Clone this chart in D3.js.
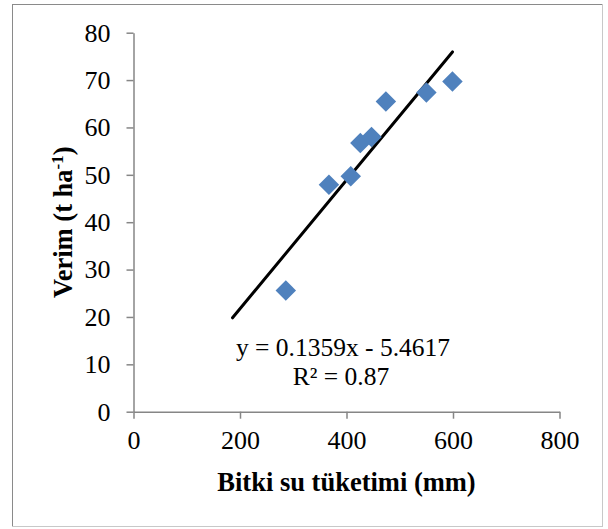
<!DOCTYPE html>
<html lang="tr">
<head>
    <meta charset="UTF-8">
    <title>Verim - Bitki su tüketimi</title>
    <script src="https://d3js.org/d3.v7.min.js"></script>
    <style>
        body { margin: 0; background: #fff; }
        text { font-family: 'Liberation Serif', 'Times New Roman', serif; }
    </style>
</head>
<body>
    <div id="chart"></div>
    <script>
        // values
        const waterUse = [286, 367, 408, 426, 447, 474, 550, 599];   // mm
        const yieldVals = [25.6, 47.9, 49.7, 56.7, 58.0, 65.5, 67.4, 69.7]; // t/ha
        const xTicks = [0, 200, 400, 600, 800];
        const yTicks = [0, 10, 20, 30, 40, 50, 60, 70, 80];
        const trendSlope = 0.1359;
        const trendIntercept = -5.4617;
        const trendFrom = [186, 599];
        const eqLabel = 'y = 0.1359x - 5.4617';
        const r2Label = 'R² = 0.87';

        const width = 608, height = 529;
        const margin = { top: 32.7, right: 48.5, bottom: 117.3, left: 133.5 };
        const axisColor = '#868686';
        const serif = "'Liberation Serif', 'Times New Roman', serif";

        const svg = d3.select('#chart').append('svg')
            .attr('width', width)
            .attr('height', height);

        // chart frame
        svg.append('line').attr('x1', 12).attr('y1', 4.5).attr('x2', 603).attr('y2', 4.5)
            .attr('stroke', '#8a8a8a');
        svg.append('line').attr('x1', 12.5).attr('y1', 4).attr('x2', 12.5).attr('y2', 527)
            .attr('stroke', '#8a8a8a');
        svg.append('line').attr('x1', 602.5).attr('y1', 4).attr('x2', 602.5).attr('y2', 527)
            .attr('stroke', '#c8c8c8');
        svg.append('line').attr('x1', 12).attr('y1', 526.5).attr('x2', 603).attr('y2', 526.5)
            .attr('stroke', '#c8c8c8');

        const x = d3.scaleLinear().domain([0, 800]).range([margin.left, width - margin.right]);
        const y = d3.scaleLinear().domain([0, 80]).range([height - margin.bottom, margin.top]);

        // y axis
        const yAxis = svg.append('g')
            .attr('transform', `translate(${margin.left},0)`)
            .call(d3.axisLeft(y).tickValues(yTicks).tickSize(7).tickPadding(16).tickSizeOuter(0));
        yAxis.attr('font-family', serif);
        yAxis.select('.domain').attr('stroke', axisColor).attr('stroke-width', 1.5);
        yAxis.selectAll('.tick line').attr('stroke', axisColor).attr('stroke-width', 1.5);
        yAxis.selectAll('.tick text')
            .attr('fill', '#000')
            .style('font-family', serif)
            .style('font-size', '26px');

        // x axis
        const xAxis = svg.append('g')
            .attr('transform', `translate(0,${y(0)})`)
            .call(d3.axisBottom(x).tickValues(xTicks).tickSize(7).tickPadding(12).tickSizeOuter(0));
        xAxis.attr('font-family', serif);
        xAxis.select('.domain').attr('stroke', axisColor).attr('stroke-width', 1.5);
        xAxis.selectAll('.tick line').attr('stroke', axisColor).attr('stroke-width', 1.5);
        xAxis.selectAll('.tick text')
            .attr('fill', '#000')
            .style('font-family', serif)
            .style('font-size', '26px');

        // trendline
        const line = d3.line()
            .x(d => x(d))
            .y(d => y(trendSlope * d + trendIntercept));
        svg.append('path')
            .datum(trendFrom)
            .attr('d', line)
            .attr('fill', 'none')
            .attr('stroke', '#000')
            .attr('stroke-width', 3)
            .attr('stroke-linecap', 'round');

        // points (diamonds)
        const diamond = d3.symbol().type(d3.symbolSquare).size(210);
        svg.selectAll('.pt')
            .data(waterUse.map((v, i) => [v, yieldVals[i]]))
            .enter()
            .append('path')
            .attr('class', 'pt')
            .attr('d', diamond)
            .attr('transform', d => `translate(${x(d[0])},${y(d[1])}) rotate(45)`)
            .attr('fill', '#4F81BD');

        // equation label
        svg.append('text')
            .attr('x', 343)
            .attr('y', 356)
            .attr('text-anchor', 'middle')
            .style('font-family', serif)
            .style('font-size', '25.5px')
            .text(eqLabel);
        svg.append('text')
            .attr('x', 341)
            .attr('y', 385)
            .attr('text-anchor', 'middle')
            .style('font-family', serif)
            .style('font-size', '25.5px')
            .text(r2Label);

        // axis titles
        svg.append('text')
            .attr('x', (x(0) + x(800)) / 2)
            .attr('y', 491)
            .attr('text-anchor', 'middle')
            .style('font-family', serif)
            .style('font-size', '26.5px')
            .style('font-weight', 'bold')
            .text('Bitki su tüketimi (mm)');

        const yTitle = svg.append('text')
            .attr('transform', `translate(72,${(y(0) + y(80)) / 2}) rotate(-90)`)
            .attr('text-anchor', 'middle')
            .style('font-family', serif)
            .style('font-size', '26.5px')
            .style('font-weight', 'bold');
        yTitle.append('tspan').text('Verim (t ha');
        yTitle.append('tspan').attr('dy', -9).style('font-size', '17px').text('-1');
        yTitle.append('tspan').attr('dy', 9).text(')');
    </script>
</body>
</html>
